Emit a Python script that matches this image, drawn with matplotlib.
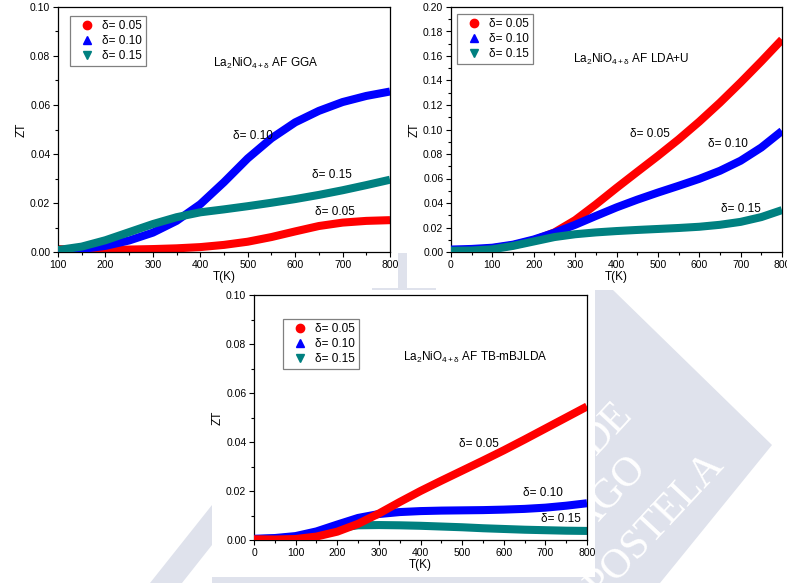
import matplotlib
matplotlib.use("Agg")
import matplotlib.pyplot as plt
from matplotlib.lines import Line2D
from matplotlib.patches import Polygon, Rectangle
from matplotlib.ticker import MultipleLocator, FormatStrFormatter

plt.rcParams["font.family"] = ["Liberation Sans", "DejaVu Sans"]
plt.rcParams["mathtext.fontset"] = "custom"
plt.rcParams["mathtext.rm"] = "Liberation Sans"
plt.rcParams["mathtext.it"] = "Liberation Sans:italic"
plt.rcParams["mathtext.default"] = "regular"

# ---------------- data ----------------
series_labels = ["δ= 0.05", "δ= 0.10", "δ= 0.15"]
series_colors = ["#ff0000", "#0000ff", "#008080"]
series_markers = ["o", "^", "v"]

# GGA
T_gga = [100, 150, 200, 250, 300, 350, 400, 450, 500, 550, 600, 650, 700, 750, 800]
zt_gga_005 = [0.0012, 0.0009, 0.0009, 0.0010, 0.0012, 0.0015, 0.0020, 0.0029, 0.0042,
              0.0061, 0.0084, 0.0106, 0.0120, 0.0127, 0.0130]
zt_gga_010 = [0.0004, 0.0012, 0.0025, 0.0047, 0.0079, 0.0127, 0.0195, 0.0285, 0.0382,
              0.0464, 0.0529, 0.0576, 0.0612, 0.0637, 0.0655]
zt_gga_015 = [0.0008, 0.0022, 0.0048, 0.0081, 0.0114, 0.0142, 0.0162, 0.0174, 0.0187,
              0.0201, 0.0216, 0.0233, 0.0252, 0.0273, 0.0295]

# LDA+U
T_ldau = [0, 50, 100, 150, 200, 250, 300, 350, 400, 450, 500, 550, 600, 650, 700, 750, 800]
zt_ldau_005 = [0.0010, 0.0015, 0.0030, 0.0055, 0.0095, 0.0160, 0.0260, 0.0388, 0.0523,
               0.0654, 0.0784, 0.0919, 0.1064, 0.1219, 0.1384, 0.1556, 0.1734]
zt_ldau_010 = [0.0020, 0.0025, 0.0035, 0.0060, 0.0102, 0.0157, 0.0222, 0.0294, 0.0364,
               0.0427, 0.0485, 0.0540, 0.0597, 0.0663, 0.0745, 0.0853, 0.0988]
zt_ldau_015 = [0.0010, 0.0012, 0.0022, 0.0050, 0.0086, 0.0122, 0.0145, 0.0160, 0.0171,
               0.0180, 0.0188, 0.0196, 0.0206, 0.0222, 0.0246, 0.0285, 0.0342]

# TB-mBJLDA
T_mbj = [0, 50, 100, 150, 200, 250, 300, 350, 400, 450, 500, 550, 600, 650, 700, 750, 800]
zt_mbj_005 = [0.0003, 0.0002, 0.0004, 0.0014, 0.0034, 0.0066, 0.0108, 0.0155, 0.0200,
              0.0242, 0.0283, 0.0324, 0.0366, 0.0410, 0.0455, 0.0500, 0.0545]
zt_mbj_010 = [0.0005, 0.0008, 0.0016, 0.0035, 0.0063, 0.0090, 0.0106, 0.0114, 0.0118,
              0.0120, 0.0121, 0.0122, 0.0124, 0.0127, 0.0132, 0.0140, 0.0150]
zt_mbj_015 = [0.0003, 0.0006, 0.0012, 0.0028, 0.0048, 0.0060, 0.0061, 0.0060, 0.0058,
              0.0055, 0.0052, 0.0048, 0.0045, 0.0042, 0.0040, 0.0038, 0.0037]

titles = [r"La$_2$NiO$_{4+δ}$ AF GGA", r"La$_2$NiO$_{4+δ}$ AF LDA+U",
          r"La$_2$NiO$_{4+δ}$ AF TB-mBJLDA"]

# ---------------- figure ----------------
W, H = 787, 583
fig = plt.figure(figsize=(W / 100, H / 100), dpi=100)


def fbox(x0, y0, x1, y1):
    """Pixel box (top-left origin) -> figure rect."""
    return [x0 / W, 1 - y1 / H, (x1 - x0) / W, (y1 - y0) / H]


def fpt(x, y):
    return (x / W, 1 - y / H)


# light background emblem
wm_color = "#dfe2ec"
emblem = Polygon([fpt(590, 290), fpt(613, 290), fpt(772, 445), fpt(660, 583), fpt(590, 583)],
                 closed=True, transform=fig.transFigure, facecolor=wm_color,
                 edgecolor="none", zorder=-5)
fig.patches.append(emblem)
for pts in ([fpt(398, 253), fpt(407, 253), fpt(407, 292), fpt(398, 292)],
            [fpt(372, 288), fpt(436, 288), fpt(436, 292), fpt(372, 292)],
            [fpt(150, 583), fpt(212, 505), fpt(212, 545), fpt(182, 583)],
            [fpt(212, 577), fpt(595, 577), fpt(595, 583), fpt(212, 583)]):
    fig.patches.append(Polygon(pts, closed=True, transform=fig.transFigure,
                               facecolor=wm_color, edgecolor="none", zorder=-5))

for txt, (ex, ey) in (("DE", (626, 408)),
                      ("AGO", (641, 462)),
                      ("POSTELA", (718, 458))):
    t = fig.text(*fpt(ex, ey), txt, family="Liberation Serif", fontsize=30,
                 color="white", rotation=47, rotation_mode="anchor",
                 ha="right", va="center", zorder=-4)
    t.set_clip_path(emblem)

fig.patches.append(Rectangle(fpt(212, 577), (595 - 212) / W, (577 - 290) / H,
                             transform=fig.transFigure, facecolor="white",
                             edgecolor="none", zorder=-3))

panels = [
    dict(rect=fbox(58, 7, 390, 252), T=T_gga,
         ys=[zt_gga_005, zt_gga_010, zt_gga_015], order=[0, 1, 2],
         xlim=(100, 800), ylim=(0, 0.10), ymajor=0.02, yminor=0.01,
         leg=(0.036, 0.963), title=titles[0], title_xy=(427, 0.0755),
         labels=[(642, 0.0151), (469, 0.0461), (635, 0.0302)]),
    dict(rect=fbox(451, 7, 782, 252), T=T_ldau,
         ys=[zt_ldau_005, zt_ldau_010, zt_ldau_015], order=[0, 1, 2],
         xlim=(0, 800), ylim=(0, 0.20), ymajor=0.02, yminor=0.01,
         leg=(0.018, 0.971), title=titles[1], title_xy=(295, 0.1543),
         labels=[(433, 0.0939), (621, 0.0857), (653, 0.0327)]),
    dict(rect=fbox(254, 295, 587, 540), T=T_mbj,
         ys=[zt_mbj_005, zt_mbj_010, zt_mbj_015], order=[2, 1, 0],
         xlim=(0, 800), ylim=(0, 0.10), ymajor=0.02, yminor=0.01,
         leg=(0.087, 0.902), title=titles[2], title_xy=(358, 0.0731),
         labels=[(492, 0.0380), (646, 0.0180), (690, 0.0073)]),
]

for p in panels:
    ax = fig.add_axes(p["rect"])
    ax.set_facecolor("white")
    for k, i in enumerate(p["order"]):
        ax.plot(p["T"], p["ys"][i], color=series_colors[i], lw=5.8,
                solid_capstyle="butt", solid_joinstyle="round", zorder=2 + k,
                clip_on=True)
    ax.set_xlim(*p["xlim"])
    ax.set_ylim(*p["ylim"])
    ax.xaxis.set_major_locator(MultipleLocator(100))
    ax.xaxis.set_minor_locator(MultipleLocator(50))
    ax.yaxis.set_major_locator(MultipleLocator(p["ymajor"]))
    ax.yaxis.set_minor_locator(MultipleLocator(p["yminor"]))
    ax.yaxis.set_major_formatter(FormatStrFormatter("%.2f"))
    ax.tick_params(which="major", direction="out", length=3.5, width=0.8,
                   labelsize=7.5, pad=2, top=False, right=False)
    ax.tick_params(which="minor", direction="out", length=2.0, width=0.8,
                   top=False, right=False)
    for s in ax.spines.values():
        s.set_linewidth(0.9)
    ax.set_xlabel("T(K)", fontsize=8.5, labelpad=1)
    ax.set_ylabel("ZT", fontsize=8.5, labelpad=2)

    handles = [Line2D([], [], color=series_colors[i], marker=series_markers[i],
                      linestyle="none", markersize=6) for i in range(3)]
    leg = ax.legend(handles, series_labels, loc="upper left",
                    bbox_to_anchor=p["leg"], frameon=True, fancybox=False,
                    edgecolor="#808080", framealpha=1, fontsize=8.5,
                    handlelength=2.2, handletextpad=0.2, borderpad=0.35,
                    labelspacing=0.25, borderaxespad=0)
    leg.get_frame().set_linewidth(0.9)
    leg.set_zorder(10)

    tx, ty = p["title_xy"]
    ax.text(tx, ty, p["title"], fontsize=8.5, ha="left", va="baseline", zorder=9)
    for i in range(3):
        lx, ly = p["labels"][i]
        ax.text(lx, ly, series_labels[i], fontsize=8.5, ha="left",
                va="baseline", zorder=9)

fig.savefig("out.png", dpi=100)
